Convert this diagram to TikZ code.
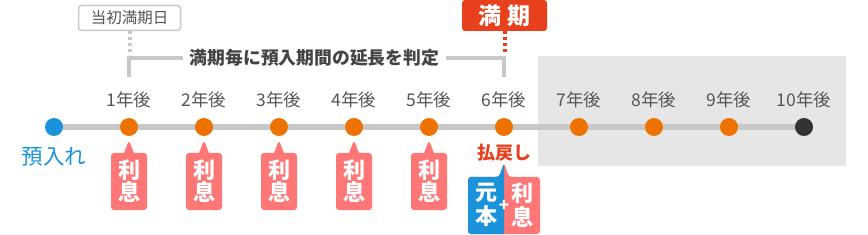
\documentclass[tikz,border=0pt]{standalone}
\usepackage{fontspec}
\setmainfont{Noto Sans CJK JP}
\usetikzlibrary{shapes.callouts,backgrounds}

\definecolor{tlgray}{HTML}{C8C8C8}
\definecolor{txtgray}{HTML}{555555}
\definecolor{dotorange}{HTML}{EE7200}
\definecolor{depblue}{HTML}{1A93DB}
\definecolor{payred}{HTML}{E8401C}
\definecolor{intpink}{HTML}{FF7676}
\definecolor{zonegray}{HTML}{E6E6E6}

\tikzset{
  tdot/.style={circle,inner sep=0pt,minimum size=18pt},
  yearlab/.style={text=txtgray,inner sep=0pt,font=\fontsize{17.5}{17.5}\selectfont},
  risoku/.style={rectangle callout,fill=intpink,text=white,rounded corners=3pt,
    callout pointer width=10pt,minimum width=36pt,minimum height=57pt,inner sep=0pt,
    align=center,font=\bfseries\fontsize{22}{22}\selectfont},
  boxtxt/.style={text=white,inner sep=0pt,align=center,font=\bfseries\fontsize{22}{24}\selectfont},
  bracket/.style={tlgray,line width=4pt},
}

\begin{document}
\begin{tikzpicture}[x=1pt,y=-1pt]
\useasboundingbox (0,0) rectangle (868,235);
\node[tdot,fill=depblue] (dep) at (54,127) {};
\foreach \i in {1,...,9}
  \node[tdot,fill=dotorange] (y\i) at ({54+75*\i},127) {};
\node[tdot,fill=black!80] (y10) at (804,127) {};
\begin{pgfonlayer}{background}
\fill[zonegray] (538,56) rectangle (846,166);
\draw[tlgray,line width=6pt] (dep.center) -- (y10.center);
\end{pgfonlayer}
\foreach \i in {1,...,10}
  \node[yearlab] (l\i) at ({54+75*\i},100) {{\i}年後};
\foreach \i in {1,...,5}
  \node[risoku,callout absolute pointer={([yshift=-4pt]y\i.south)}] (r\i) at ({54+75*\i},181.5) {利\\息};
\node[text=depblue,font=\fontsize{21.5}{21.5}\selectfont] (azuke) at (54,157) {預入れ};
\node[text=payred,font=\bfseries\fontsize{18}{18}\selectfont] (harai) at (504,153) {払戻し};

\fill[intpink,rounded corners=3pt] (468,177) -- (499,177) -- (504,163) -- (509,177)
  -- (540,177) -- (540,234) -- (468,234) -- cycle;
\begin{scope}
\clip (460,150) rectangle (504,235);
\fill[depblue,rounded corners=3pt] (468,177) -- (499,177) -- (504,163) -- (509,177)
  -- (540,177) -- (540,234) -- (468,234) -- cycle;
\end{scope}
\node[boxtxt] (gan) at (486,205) {元\\本};
\node[boxtxt] (kin) at (522,205) {利\\息};
\node[text=white,inner sep=0pt,font=\bfseries\fontsize{17}{17}\selectfont] (plus) at (504,206) {+};

\node[draw=tlgray,line width=1.5pt,rounded corners=3pt,fill=white,minimum width=102pt,
  minimum height=25pt,inner sep=0pt,text=txtgray,font=\fontsize{15.5}{15.5}\selectfont] (tosho) at (129.5,18) {当初満期日};
\node[fill=payred,rounded corners=3pt,minimum width=85pt,minimum height=31pt,inner sep=0pt,
  text=white,font=\bfseries\fontsize{23}{23}\selectfont] (manki) at (504.5,15.5) {満 期};
\node[text=txtgray!80!black,inner sep=7pt,font=\bfseries\fontsize{17.8}{17.8}\selectfont] (hantei) at (314.5,58) {満期毎に預入期間の延長を判定};
\coordinate (b1) at (129,77);
\coordinate (b6) at (504,77);
\draw[bracket] (b1) |- (hantei.west);
\draw[bracket] (hantei.east) -| (b6);
\draw[bracket,dash pattern=on 3pt off 3pt] (tosho.south) -- ++(0,24);
\draw[payred,line width=4pt,dash pattern=on 3pt off 3pt] (manki.south) -- ++(0,21);
\end{tikzpicture}
\end{document}
